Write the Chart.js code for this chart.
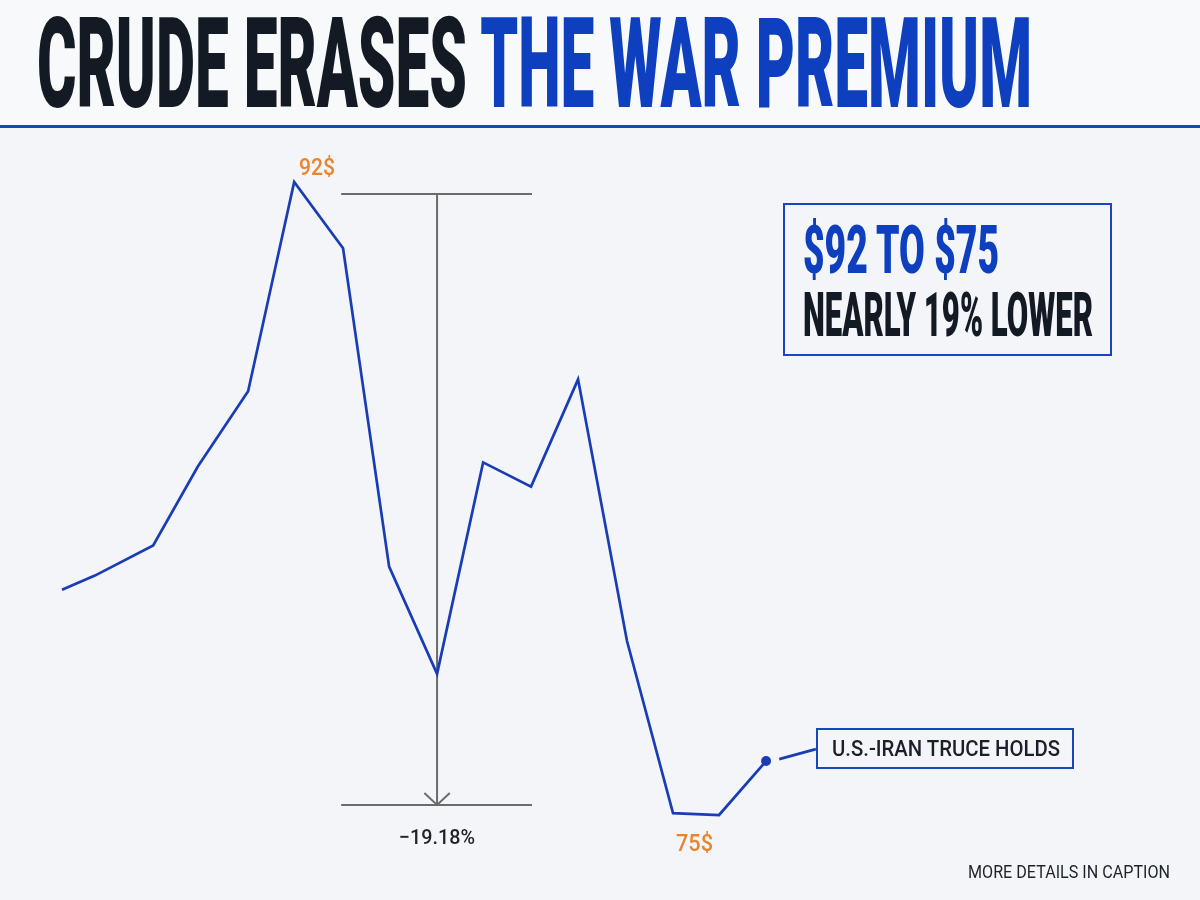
<!DOCTYPE html>
<html>
<head>
<meta charset="utf-8">
<script src="https://cdn.jsdelivr.net/npm/chart.js@4/dist/chart.umd.min.js"></script>
<style>
  html, body { margin:0; padding:0; width:1200px; height:900px; overflow:hidden; background:#f3f5f8; }
  #hdr { position:absolute; left:0; top:0; width:1200px; height:126px; background:#f8f9fa; }
  #rule { position:absolute; left:0; top:125px; width:1200px; height:3px; background:#1845c0; }
  #cv { position:absolute; left:0; top:0; }
  .t { position:absolute; white-space:nowrap; line-height:1; font-family:Roboto, "Noto Sans", sans-serif; transform-origin:0 0; display:inline-block; }
  #title { font-weight:900; font-size:126px; color:#141a24; left:37px; top:1px; }
  #title .b { color:#0d3fbf; }
  .box { position:absolute; border:2px solid #1a45c0; box-sizing:border-box; }
</style>
</head>
<body>
<div id="hdr"></div>
<div id="rule"></div>
<canvas id="cv" width="1200" height="900"></canvas>

<div class="t" id="title" data-w="995">CRUDE ERASES <span class="b">THE WAR PREMIUM</span></div>

<div class="box" style="left:783px;top:203px;width:329px;height:153px;"></div>
<div class="t" data-w="196" style="left:803px;top:216px;font-size:67.5px;font-weight:900;color:#0d3fbf;">$92 TO $75</div>
<div class="t" data-w="290" style="left:803px;top:283.5px;font-size:62px;font-weight:900;color:#141a24;">NEARLY 19% LOWER</div>

<div class="box" style="left:816px;top:728px;width:258px;height:41px;"></div>
<div class="t" data-w="228" style="left:832px;top:737px;font-size:22.5px;font-weight:500;color:#1b1f2a;">U.S.-IRAN TRUCE HOLDS</div>

<div class="t" data-w="36" style="left:299px;top:155px;font-size:24px;font-weight:500;color:#e9852f;">92$</div>
<div class="t" data-w="37" style="left:676px;top:830.5px;font-size:24px;font-weight:500;color:#e9852f;">75$</div>
<div class="t" data-w="76" style="left:399px;top:827px;font-size:21px;font-weight:500;color:#1e222a;">−19.18%</div>
<div class="t" data-w="202" style="left:968px;top:862.5px;font-size:18.3px;font-weight:400;color:#1e222a;">MORE DETAILS IN CAPTION</div>

<script>
// ---- data ----
const days   = [0, 0.70, 1.94, 2.89, 3.96, 4.94, 5.98, 6.96, 7.98, 8.96, 9.98, 10.98, 12.02, 13.00, 13.98, 14.98];
const prices = [81.05, 81.43, 82.24, 84.36, 86.38, 92.00, 90.22, 81.67, 78.79, 84.47, 83.82, 86.70, 79.68, 75.05, 75.00, 76.45];
const peakLevel = 91.68;   // upper reference bar
const lowLevel  = 75.27;   // lower reference bar
const barStart = 5.94, barEnd = 10.00, arrowX = 7.98;
const calloutFrom = {x:15.26, y:76.50}, calloutTo = {x:16.04, y:76.77};

const BLUE = '#1a3db5', GRAY = '#6b6b6b';
const pts = days.map((d,i)=>({x:d, y:prices[i]}));
const radii = prices.map((_,i)=> i===prices.length-1 ? 5 : 0);

const grayDs = (data)=>({data, borderColor:GRAY, borderWidth:2, pointRadius:0, tension:0, fill:false});

new Chart(document.getElementById('cv'), {
  type:'line',
  data:{ datasets:[
    {data:pts, borderColor:BLUE, backgroundColor:BLUE, borderWidth:2.7, pointRadius:radii, pointBackgroundColor:BLUE, pointBorderWidth:0, tension:0, fill:false},
    grayDs([{x:barStart,y:peakLevel},{x:barEnd,y:peakLevel}]),
    grayDs([{x:barStart,y:lowLevel},{x:barEnd,y:lowLevel}]),
    grayDs([{x:arrowX,y:peakLevel},{x:arrowX,y:lowLevel}]),
    grayDs([{x:arrowX-0.27,y:lowLevel+0.32},{x:arrowX,y:lowLevel},{x:arrowX+0.27,y:lowLevel+0.32}]),
    {data:[calloutFrom, calloutTo], borderColor:BLUE, borderWidth:2.7, pointRadius:0, tension:0, fill:false}
  ]},
  options:{
    responsive:false, animation:false, devicePixelRatio:1,
    layout:{padding:0, autoPadding:false},
    plugins:{legend:{display:false}, tooltip:{enabled:false}},
    scales:{
      x:{type:'linear', display:false, min:-62/47, max:-62/47+1200/47},
      y:{type:'linear', display:false, min:96.888-900*17/633, max:96.888}
    }
  }
});

// fit text widths
document.querySelectorAll('.t[data-w]').forEach(el=>{
  const w = el.getBoundingClientRect().width;
  const target = parseFloat(el.dataset.w);
  el.style.transform = 'scaleX(' + (target/w) + ')';
});
</script>
</body>
</html>
